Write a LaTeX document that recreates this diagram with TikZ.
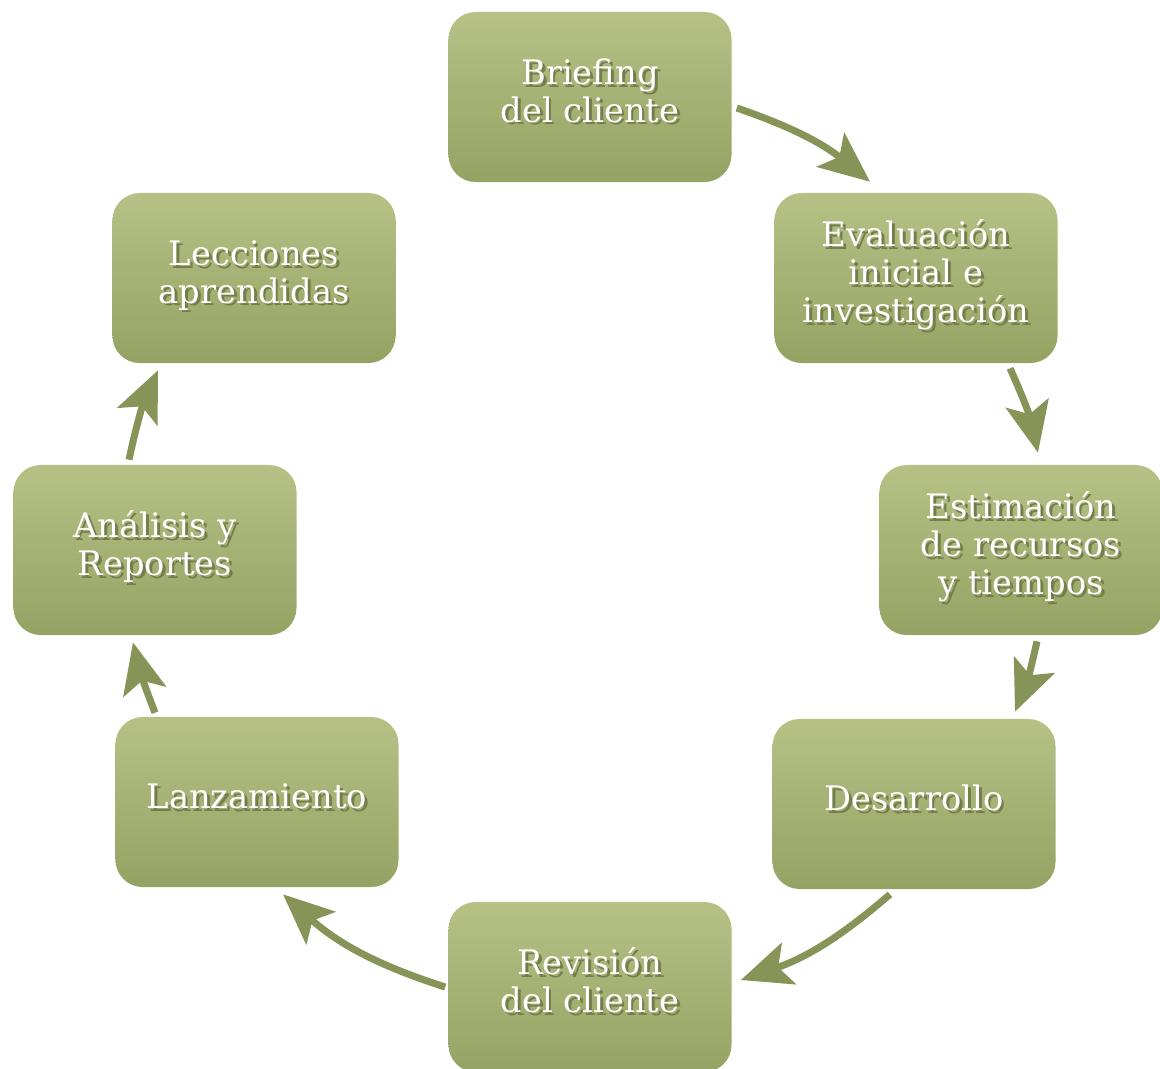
\documentclass[tikz,border=0pt]{standalone}
\usepackage{fontspec}
\setmainfont{DejaVu Serif}
\usetikzlibrary{arrows.meta}
\definecolor{boxtop}{RGB}{183,193,134}
\definecolor{boxbot}{RGB}{148,163,99}
\definecolor{arrowc}{RGB}{134,148,88}
\definecolor{txtshade}{RGB}{116,126,76}
% white text with a soft drop shadow behind it
\newcommand{\shtxt}[1]{%
    \makebox[0pt][l]{\raisebox{-2pt}{\hspace{2pt}\textcolor{txtshade}{%
        \begin{tabular}{@{}c@{}}#1\end{tabular}}}}%
    \begin{tabular}{@{}c@{}}#1\end{tabular}}

\begin{document}
\begin{tikzpicture}[x=0.025cm,y=-0.025cm,
    stage/.style={rectangle,rounded corners=0.68cm,minimum width=7.075cm,
        minimum height=4.25cm,top color=boxtop,bottom color=boxbot,
        text=white,inner sep=0pt,
        font=\fontsize{24}{27}\selectfont},
    flow/.style={draw=arrowc,line width=5pt,
        -{Stealth[length=36pt,width=31pt,inset=8pt]}}]
    \useasboundingbox (0,0) rectangle (1160,1068);
    \node[stage] (brief) at (590,97)  {\shtxt{Briefing\\del cliente}};
    \node[stage] (eval)  at (916,278) {\shtxt{Evaluación\\inicial e\\investigación}};
    \node[stage] (estim) at (1021,550) {\shtxt{Estimación\\de recursos\\y tiempos}};
    \node[stage] (desa)  at (914,804) {\shtxt{Desarrollo}};
    \node[stage] (revi)  at (590,987) {\shtxt{Revisión\\del cliente}};
    \node[stage] (lanza) at (257,802) {\shtxt{Lanzamiento}};
    \node[stage] (anal)  at (155,550) {\shtxt{Análisis y\\Reportes}};
    \node[stage] (lecc)  at (254,278) {\shtxt{Lecciones\\aprendidas}};
    % arrows around the cycle
    \draw[flow] ([shift={(5,11)}]brief.east) to[bend left=10]
        ([shift={(-46,-11)}]eval.north);
    \draw[flow] ([shift={(94,5)}]eval.south) to[bend left=6]
        ([shift={(17,-12)}]estim.north);
    \draw[flow] ([shift={(16,6)}]estim.south) to[bend left=5]
        ([shift={(101,-7)}]desa.north);
    \draw[flow] ([shift={(-24,5)}]desa.south) to[bend left=11]
        ([shift={(9,-7)}]revi.east);
    \draw[flow] ([shift={(-3,0)}]revi.west) to[bend left=12]
        ([shift={(26,7)}]lanza.south);
    \draw[flow] ([shift={(-102,-4)}]lanza.north) to[bend left=4]
        ([shift={(-22,7)}]anal.south);
    \draw[flow] ([shift={(-26,-5)}]anal.north) to[bend left=6]
        ([shift={(-96,7)}]lecc.south);
\end{tikzpicture}
\end{document}
